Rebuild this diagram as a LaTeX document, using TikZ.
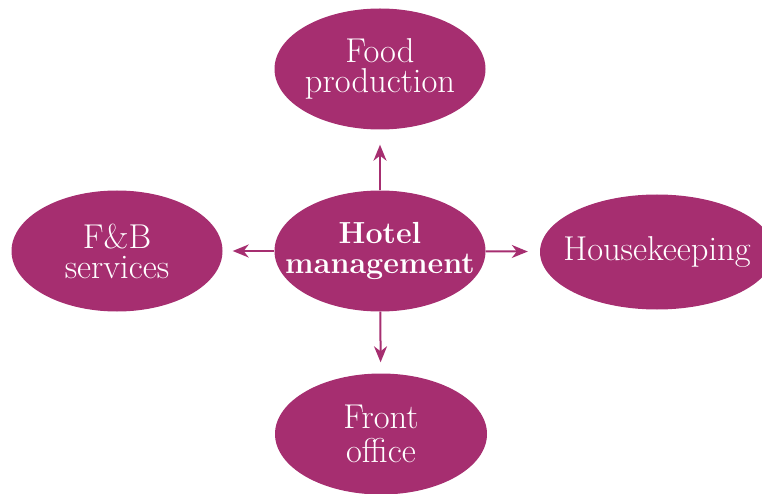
\documentclass[tikz,border=0pt]{standalone}
\usepackage{amsmath}
\usepackage{color}
\usetikzlibrary{shapes.geometric,arrows.meta}
\definecolor{hotelpurple}{RGB}{166,46,112}

\begin{document}
\begin{tikzpicture}[x=1pt,y=-1pt,
        blob/.style={ellipse,fill=hotelpurple,inner sep=0pt,minimum width=211pt,minimum height=121pt},
        txt/.style={text=white,align=center,font=\fontsize{34.5}{30}\selectfont},
        arr/.style={hotelpurple,line width=2pt,-{Stealth[length=16pt,width=13pt,inset=5pt]}}]
                \useasboundingbox (0,0) rectangle (762,494);
                \node[blob,label={[txt]center:Food\\production}] (food) at (380,69) {};
                \node[blob,label={[txt,font=\bfseries\fontsize{30.5}{30}\selectfont]center:Hotel\\management}] (hotel) at (380,251) {};
                \node[blob,label={[txt]center:F\&B\\services}] (fb) at (117,251) {};
                \node[blob,minimum width=234pt,minimum height=115pt,label={[txt]center:Housekeeping}] (house) at (657,252) {};
                \node[blob,minimum width=212pt,label={[txt,font=\fontsize{34.5}{34}\selectfont]center:Front\\office}] (front) at (381,434) {};
                \draw[arr,shorten >=15pt] (hotel) -- (food);
                \draw[arr,shorten >=10pt] (hotel) -- (fb);
                \draw[arr,shorten >=12pt] (hotel) -- (house);
                \draw[arr,shorten >=11pt] (hotel) -- (front);
            \end{tikzpicture}
\end{document}
